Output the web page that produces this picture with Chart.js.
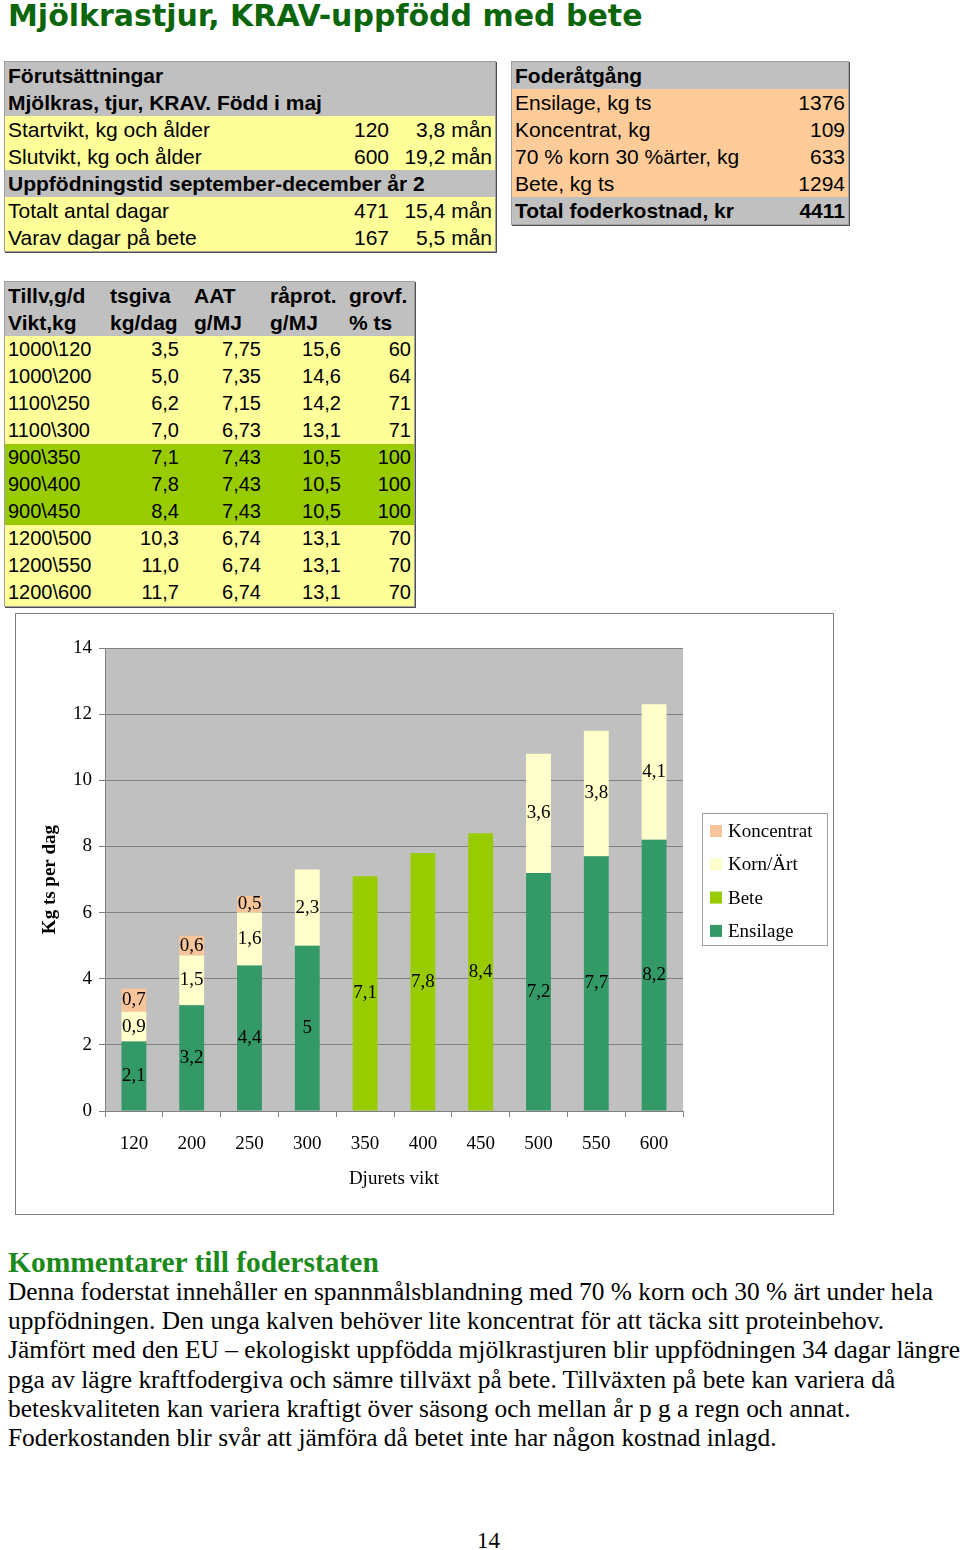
<!DOCTYPE html>
<html lang="sv">
<head>
<meta charset="utf-8">
<title>Mjölkrastjur, KRAV-uppfödd med bete</title>
<script src="https://cdn.jsdelivr.net/npm/chart.js@4/dist/chart.umd.min.js"></script>
<style>
    html, body { margin: 0; padding: 0; background: #fff; }
    body { width: 960px; height: 1550px; position: relative; overflow: hidden; }
    .abs { position: absolute; white-space: nowrap; }
    .title { left: 8px; top: 0; font: bold 30px "DejaVu Sans", Verdana, sans-serif; color: #0b660b; line-height: 31px; }
    .xtab { position: absolute; font: 21px "Liberation Sans", Arial, sans-serif; color: #000;
            border: 1px solid #a0a0a0; box-shadow: 1px 1px 0 #505050; }
    .xtab .row { position: relative; height: 27px; line-height: 27px; }
    .xtab .row span { position: absolute; top: 0; }
    .xtab .b { font-weight: bold; }
    .xtab.narrow .row span { font-size: 20px; }
    .xtab.narrow .row span.b { font-size: 21px; }
    .gray { background: #c0c0c0; }
    .yellow { background: #ffff99; }
    .green { background: #99cc00; }
    .orange { background: #ffcc99; }
    #chartBox { position: absolute; left: 15px; top: 613px; width: 817px; height: 600px; border: 1px solid #808080; background: #fff; }
    .heading { left: 8px; top: 1246px; font: bold 29.5px "Liberation Serif", Cambria, serif; color: #1b8a1b; line-height: 32px; }
    .body { left: 8px; font: 25.4px "Liberation Serif", "Times New Roman", serif; color: #000; line-height: 29px; }
    .pageno { left: 477px; top: 1526px; font: 23px "Liberation Serif", serif; line-height: 29px; }
</style>
</head>
<body>
<div class="abs title">Mjölkrastjur, KRAV-uppfödd med bete</div>

<div id="tables"></div>

<div id="chartBox"><canvas id="foderChart" width="817" height="600"></canvas></div>

<div class="abs heading">Kommentarer till foderstaten</div>
<div id="comment"></div>
<div class="abs pageno">14</div>

<script>
// --- chart data (kg ts per dag, per vikt) ---
const weights    = ['120', '200', '250', '300', '350', '400', '450', '500', '550', '600'];
const ensilage   = [2.1, 3.2, 4.4, 5, 0, 0, 0, 7.2, 7.7, 8.2];
const bete       = [0, 0, 0, 0, 7.1, 7.8, 8.4, 0, 0, 0];
const kornArt    = [0.9, 1.5, 1.6, 2.3, 0, 0, 0, 3.6, 3.8, 4.1];
const koncentrat = [0.7, 0.6, 0.5, 0, 0, 0, 0, 0, 0, 0];
const yMax = 14;
const yStep = 2;

// --- tables ---
const forutsattningar = [
    ['gray', ['Förutsättningar']],
    ['gray', ['Mjölkras, tjur, KRAV. Född i maj']],
    ['yellow', ['Startvikt, kg och ålder', '120', '3,8 mån']],
    ['yellow', ['Slutvikt, kg och ålder', '600', '19,2 mån']],
    ['gray', ['Uppfödningstid september-december år 2']],
    ['yellow', ['Totalt antal dagar', '471', '15,4 mån']],
    ['yellow', ['Varav dagar på bete', '167', '5,5 mån']]
];
const foderatgang = [
    ['gray', ['Foderåtgång']],
    ['orange', ['Ensilage, kg ts', '1376']],
    ['orange', ['Koncentrat, kg', '109']],
    ['orange', ['70 % korn 30 %ärter, kg', '633']],
    ['orange', ['Bete, kg ts', '1294']],
    ['gray', ['Total foderkostnad, kr', '4411']]
];
const giva = [
    ['gray', ['Tillv,g/d', 'tsgiva', 'AAT', 'råprot.', 'grovf.']],
    ['gray', ['Vikt,kg', 'kg/dag', 'g/MJ', 'g/MJ', '% ts']],
    ['yellow', ['1000\\120', '3,5', '7,75', '15,6', '60']],
    ['yellow', ['1000\\200', '5,0', '7,35', '14,6', '64']],
    ['yellow', ['1100\\250', '6,2', '7,15', '14,2', '71']],
    ['yellow', ['1100\\300', '7,0', '6,73', '13,1', '71']],
    ['green', ['900\\350', '7,1', '7,43', '10,5', '100']],
    ['green', ['900\\400', '7,8', '7,43', '10,5', '100']],
    ['green', ['900\\450', '8,4', '7,43', '10,5', '100']],
    ['yellow', ['1200\\500', '10,3', '6,74', '13,1', '70']],
    ['yellow', ['1200\\550', '11,0', '6,74', '13,1', '70']],
    ['yellow', ['1200\\600', '11,7', '6,74', '13,1', '70']]
];

const commentLines = [
    'Denna foderstat innehåller en spannmålsblandning med 70 % korn och 30 % ärt under hela',
    'uppfödningen. Den unga kalven behöver lite koncentrat för att täcka sitt proteinbehov.',
    'Jämfört med den EU – ekologiskt uppfödda mjölkrastjuren blir uppfödningen 34 dagar längre',
    'pga av lägre kraftfodergiva och sämre tillväxt på bete. Tillväxten på bete kan variera då',
    'beteskvaliteten kan variera kraftigt över säsong och mellan år p g a regn och annat.',
    'Foderkostanden blir svår att jämföra då betet inte har någon kostnad inlagd.'
];

function buildTable(rows, left, top, width, cols, extraClass) {
    const t = document.createElement('div');
    t.className = 'xtab' + (extraClass ? ' ' + extraClass : '');
    t.style.left = left + 'px';
    t.style.top = top + 'px';
    t.style.width = width + 'px';
    rows.forEach(([cls, cells]) => {
        const r = document.createElement('div');
        r.className = 'row ' + cls;
        const bold = cls === 'gray';
        cells.forEach((txt, i) => {
            const s = document.createElement('span');
            s.textContent = txt;
            if (bold) s.className = 'b';
            const c = cols(i, bold, cells.length);
            if (c.right !== undefined) s.style.right = c.right + 'px';
            else s.style.left = c.left + 'px';
            r.appendChild(s);
        });
        t.appendChild(r);
    });
    document.getElementById('tables').appendChild(t);
}

buildTable(forutsattningar, 4, 61, 490, i => [{ left: 3 }, { right: 106 }, { right: 3 }][i]);
buildTable(foderatgang, 511, 61, 336, i => [{ left: 3 }, { right: 3 }][i]);
const headLeft = [3, 105, 189, 265, 344];
const valRight = [0, 235, 153, 73, 3];
buildTable(giva, 4, 281, 409, (i, bold) => {
    if (i === 0) return { left: 3 };
    return bold ? { left: headLeft[i] } : { right: valRight[i] };
}, 'narrow');

const comment = document.getElementById('comment');
commentLines.forEach((line, i) => {
    const d = document.createElement('div');
    d.className = 'abs body';
    d.style.top = (1277 + i * 29.2) + 'px';
    d.textContent = line;
    comment.appendChild(d);
});

// --- chart ---
const serif = '"Liberation Serif", "Times New Roman", serif';
const series = [
    { label: 'Ensilage', data: ensilage, color: '#339966' },
    { label: 'Bete', data: bete, color: '#99cc00' },
    { label: 'Korn/Ärt', data: kornArt, color: '#ffffcc' },
    { label: 'Koncentrat', data: koncentrat, color: '#f8c49a' }
];

const plotBackground = {
    id: 'plotBackground',
    beforeDraw(chart) {
        const { ctx, chartArea: a } = chart;
        ctx.save();
        ctx.fillStyle = '#c0c0c0';
        ctx.fillRect(a.left, a.top, a.right - a.left, a.bottom - a.top);
        ctx.restore();
    }
};

// value labels centred in each stacked segment
const segmentLabels = {
    id: 'segmentLabels',
    afterDatasetsDraw(chart) {
        const { ctx } = chart;
        ctx.save();
        ctx.font = '19px ' + serif;
        ctx.fillStyle = '#000';
        ctx.textAlign = 'center';
        ctx.textBaseline = 'middle';
        chart.data.datasets.forEach((ds, i) => {
            chart.getDatasetMeta(i).data.forEach((bar, j) => {
                const v = ds.data[j];
                if (!v) return;
                ctx.fillText(String(v).replace('.', ','), bar.x, (bar.y + bar.base) / 2);
            });
        });
        ctx.restore();
    }
};

// boxed legend to the right of the plot, top series first
const boxLegend = {
    id: 'boxLegend',
    afterDraw(chart) {
        const { ctx } = chart;
        const x = 686, y = 199, w = 125, h = 132;
        ctx.save();
        ctx.fillStyle = '#fff';
        ctx.fillRect(x, y, w, h);
        ctx.strokeStyle = '#a0a0a0';
        ctx.lineWidth = 1;
        ctx.strokeRect(x + 0.5, y + 0.5, w, h);
        ctx.font = '19px ' + serif;
        ctx.textBaseline = 'middle';
        const items = chart.data.datasets.slice().reverse();
        items.forEach((ds, k) => {
            const cy = y + 18 + k * 33.3;
            ctx.fillStyle = ds.backgroundColor;
            ctx.fillRect(x + 8, cy - 6, 12, 12);
            ctx.fillStyle = '#000';
            ctx.fillText(ds.label, x + 26, cy + 1);
        });
        ctx.restore();
    }
};

new Chart(document.getElementById('foderChart'), {
    type: 'bar',
    data: {
        labels: weights,
        datasets: series.map(s => ({
            label: s.label,
            data: s.data,
            backgroundColor: s.color,
            borderWidth: 0,
            barPercentage: 0.43,
            categoryPercentage: 1
        }))
    },
    options: {
        responsive: false,
        animation: false,
        layout: { padding: { top: 34, right: 150, left: 0, bottom: 0 } },
        plugins: { legend: { display: false }, tooltip: { enabled: false } },
        scales: {
            x: {
                stacked: true,
                afterFit(scale) { scale.height = 103; },
                grid: { display: true, drawOnChartArea: false, drawTicks: true, tickLength: 6, color: '#808080', offset: true },
                border: { color: '#808080' },
                ticks: { color: '#000', padding: 16, font: { family: serif, size: 19 } },
                title: { display: true, text: 'Djurets vikt', color: '#000', padding: { top: 0, bottom: 24 }, font: { family: serif, size: 19 } }
            },
            y: {
                stacked: true,
                min: 0,
                max: yMax,
                afterFit(scale) { scale.width = 89; },
                grid: { color: '#808080', tickLength: 6 },
                border: { color: '#808080' },
                ticks: { stepSize: yStep, color: '#000', padding: 7, font: { family: serif, size: 19 } },
                title: { display: true, text: 'Kg ts per dag', color: '#000', padding: { top: 23, bottom: 0 }, font: { family: serif, size: 19, weight: 'bold' } }
            }
        }
    },
    plugins: [plotBackground, segmentLabels, boxLegend]
});
</script>
</body>
</html>
